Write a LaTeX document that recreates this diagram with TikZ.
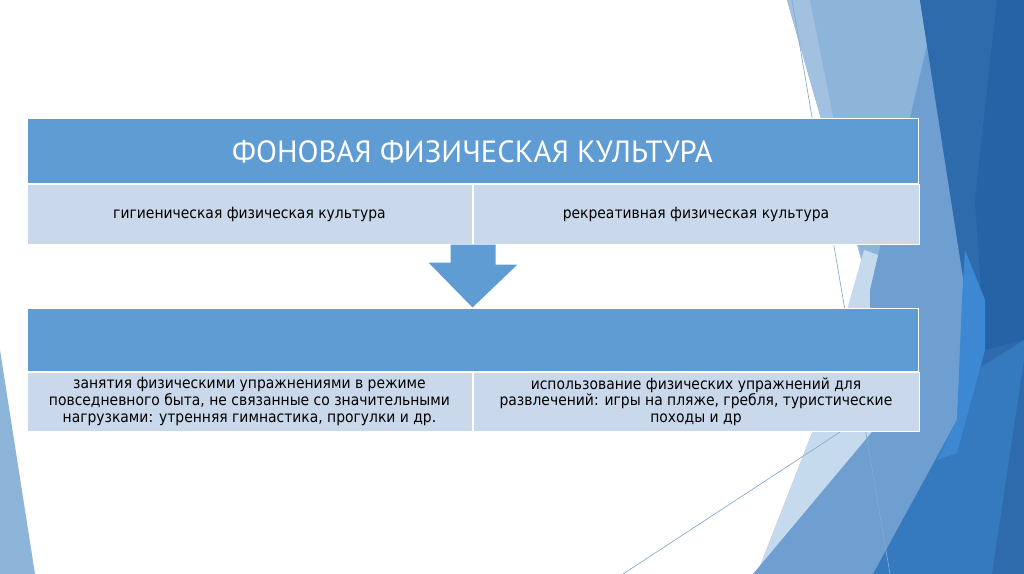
\documentclass[tikz,border=0pt]{standalone}
\usepackage{fontspec}
\setmainfont{DejaVu Sans Condensed}
\newfontfamily\headfont{PT Sans}
\definecolor{headblue}{HTML}{5E9CD3}
\definecolor{cellblue}{HTML}{C9D9EB}
\definecolor{facetA}{HTML}{8DB4D9}
\definecolor{facetAl}{HTML}{A2C0E0}
\definecolor{facetB}{HTML}{C6DAEE}
\definecolor{facetC}{HTML}{6E9FD0}
\definecolor{facetD}{HTML}{3579BF}
\definecolor{facetDd}{HTML}{2D6BAD}
\definecolor{facetE}{HTML}{2563A6}
\definecolor{facetF}{HTML}{3C88D3}
\definecolor{facetline}{HTML}{86A9D0}
\tikzset{
  headcell/.style={draw=white,line width=0.75pt,fill=headblue,text=white,
    minimum width=668.25pt,inner sep=0pt,font=\headfont\fontsize{23}{26}\selectfont},
  cell/.style={draw=white,line width=0.75pt,fill=cellblue,text=black,
    minimum height=44.25pt,inner sep=0pt,align=center,
    font=\fontsize{11.6}{12.4}\selectfont},
  blockarrow/.style={fill=headblue}
}
\begin{document}
\begin{tikzpicture}[x=0.75pt,y=-0.75pt]
\fill[white] (0,0) rectangle (1024,574);
\useasboundingbox (0,0) rectangle (1024,574);

% facet background
\fill[facetA] (0,350) -- (35,574) -- (0,574) -- cycle;
\fill[facetA] (787,0) -- (1024,0) -- (1024,574) -- (757,574) -- (812,433) -- (862,262) -- cycle;
\fill[facetAl] (787,0) -- (810,0) -- (862,262) -- cycle;
\fill[facetB] (864,250) -- (898,262) -- (872,432) -- (757,574) -- (812,433) -- cycle;
\fill[facetC] (927,45) -- (965,290) -- (957,420) -- (873,574) -- (753,574) -- (872,432) -- (870,290) -- cycle;
\fill[facetD] (920,0) -- (1024,0) -- (1024,574) -- (873,574) -- (957,420) -- (965,290) -- cycle;
\fill[facetDd] (920,0) -- (1024,0) -- (1024,340) -- (960,380) -- (965,290) -- cycle;
\fill[facetE] (997,0) -- (1024,0) -- (1024,340) -- (985,350) -- (975,200) -- cycle;
\fill[facetF] (965,250) -- (985,300) -- (985,350) -- (957,453) -- (937,460) -- (957,420) -- (962,300) -- cycle;
\fill[facetDd] (1024,360) -- (1024,574) -- (992,574) -- cycle;
\draw[facetline,line width=0.5pt] (792,0) -- (890,574);
\draw[facetline,line width=0.5pt] (623,574) -- (918,381);

% upper table
\node[headcell,minimum height=48.75pt] (fonhead) at (472.5,151.5) {ФОНОВАЯ ФИЗИЧЕСКАЯ КУЛЬТУРА};
\node[cell,anchor=north west,minimum width=333.75pt] (hyg) at (fonhead.south west)
  {гигиеническая физическая культура};
\node[cell,anchor=north west,minimum width=334.5pt] (recr) at (hyg.north east)
  {рекреативная физическая культура};

% lower table
\node[headcell,minimum height=47.25pt] (lowhead) at (472.5,339.5) {};
\node[cell,anchor=north west,minimum width=333.75pt] (daily) at (lowhead.south west)
  {занятия физическими упражнениями в режиме\\повседневного быта, не связанные со значительными\\нагрузками: утренняя гимнастика, прогулки и др.};
\node[cell,anchor=north west,minimum width=334.5pt] (leisure) at (daily.north east)
  {использование физических упражнений для\\развлечений: игры на пляже, гребля, туристические\\походы и др};

% block arrow
\fill[blockarrow] (hyg.south east) ++(-22,0) -- ++(45,0) -- ++(0,20) -- ++(22,0)
  -- (lowhead.north) -- ++(-44,-45) -- ++(22,0) -- cycle;
\end{tikzpicture}
\end{document}
